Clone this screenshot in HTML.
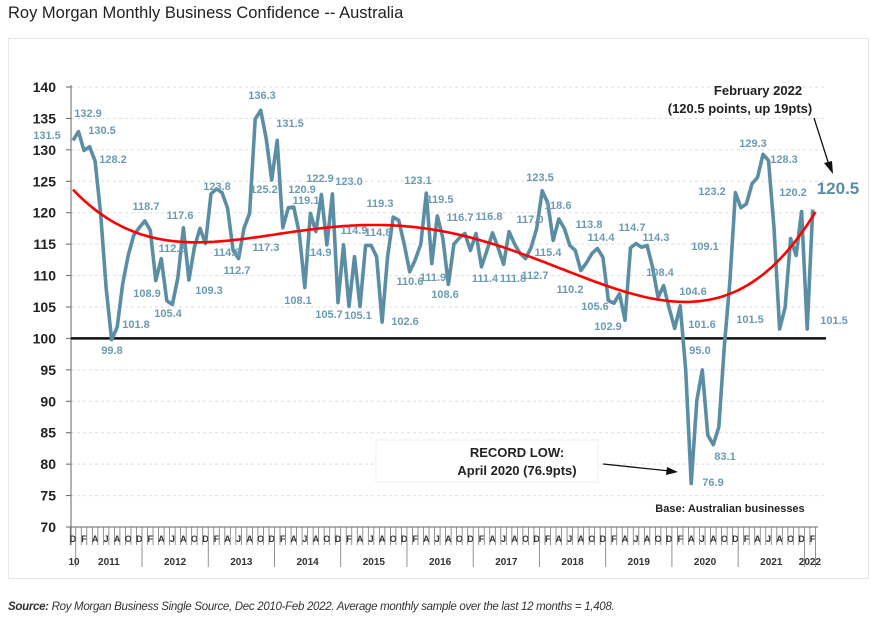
<!DOCTYPE html>
<html><head><meta charset="utf-8">
<style>
body{margin:0;background:#fff;width:878px;height:628px;overflow:hidden;font-family:"Liberation Sans",sans-serif;}
#title{position:absolute;left:8px;top:4px;font-size:16.5px;color:#222;}
#box{position:absolute;left:8px;top:38px;width:859px;height:539px;border:1px solid #e6e6e6;}
#src{position:absolute;left:8px;top:601px;font-size:11.5px;font-style:italic;color:#333;letter-spacing:-0.3px;}
svg{position:absolute;left:0;top:0;}
</style></head><body>
<div id="title">Roy Morgan Monthly Business Confidence -- Australia</div>
<div id="box"></div>
<svg id="chart" width="878" height="628"></svg>
<div id="src"><b>Source:</b> Roy Morgan Business Single Source, Dec 2010-Feb 2022. Average monthly sample over the last 12 months = 1,408.</div>
<script>
const values = [131.5,
132.9,129.9,130.5,128.2,119.9,108.1,99.8,101.8,108.7,113.2,116.4,117.6,
118.7,117.2,109.2,112.7,106,105.4,109.7,117.6,109.3,114.5,117.5,115.1,
123,123.8,123.2,120.7,114,112.7,117.6,119.9,134.9,136.3,131.8,125.2,
131.5,117.6,120.8,120.9,116.7,108.1,119.9,117,122.9,114.9,123.0,105.7,
114.9,105.1,113,105.1,114.8,114.8,113,102.6,113,119.3,118.8,115,
110.6,112.5,115,123.1,111.9,119.5,116,108.6,115,116,116.7,114,
116.7,111.4,114,116.8,114.5,111.8,117,115,113.5,112.7,114.5,117.5,
123.5,121.6,115.6,119,117.5,114.8,114,110.8,112,113.5,114.3,112.9,
106,105.6,107.1,102.9,114.4,115.1,114.5,114.8,111.3,106.5,108.4,104.8,
101.6,105.2,95.0,76.9,90.1,95,84.6,83.1,85.9,98.9,109.1,123.2,
120.8,121.4,124.6,125.6,129.3,128.3,117.6,101.5,104.9,115.9,113.2,120.2,
101.5,120.5];
const labelIdx = [0,1,3,4,7,8,13,15,16,18,20,21,26,24,30,34,36,37,38,40,43,42,45,46,47,48,49,50,53,58,56,64,66,61,65,68,71,74,76,78,79,82,85,88,87,91,92,101,102,97,104,100,119,107,110,109,114,116,112,120,125,126,128,132,133];
const labelText = ["131.5","132.9","130.5","128.2","99.8","101.8","118.7","108.9","112.2","105.4","117.6","109.3","123.8","114.8","112.7","136.3","125.2","131.5","117.3","120.9","119.1","108.1","122.9","114.9","123.0","105.7","114.9","105.1","114.8","119.3","102.6","123.1","119.5","110.6","111.9","108.6","116.7","111.4","116.8","111.8","117.0","112.7","123.5","118.6","115.4","113.8","110.2","114.4","114.7","105.6","114.3","102.9","109.1","108.4","104.6","101.6","95.0","83.1","76.9","123.2","129.3","128.3","101.5","120.2","101.5"];
const yTicks = [70,75,80,85,90,95,100,105,110,115,120,125,130,135,140];
const years = ["2011","2012","2013","2014","2015","2016","2017","2018","2019","2020","2021"];
const monthLetters = ["D","J","F","M","A","M","J","J","A","S","O","N"];
</script>
<script>
const NS="http://www.w3.org/2000/svg", svg=document.getElementById('chart');
const X0=73, DX=5.52, yPix=v=>527-(v-70)*6.2857, xPix=i=>X0+i*DX;
function mk(t,a,p){const e=document.createElementNS(NS,t);for(const k in a)e.setAttribute(k,a[k]);(p||svg).appendChild(e);return e;}
const labelPos=[[47,135],[88,113],[102,130],[113,159],[112,350],[136,324],[146,206],[147,293],[172,248],[168,313],[180,215],[209,290],[217,186],[227,252],[237,270],[262,95],[264,189],[290,123],[266,247],[302,189],[306,200],[298,300],[320,178],[318,252],[349,181],[329,314],[354,230],[358,315],[378,232],[380,203],[405,321],[418,180],[440,199],[410,281],[433,277],[445,294],[460,217],[485,278],[489,216],[513,278],[530,219],[535,275],[540,177],[558,205],[548,252],[589,224],[570,289],[601,237],[632,227],[595,306],[656,237],[608,326],[705,246],[660,272],[693,291],[702,324],[700,350],[725,456],[713,482],[712,191],[753,143],[784,159],[750,319],[793,192],[834,320]];
yTicks.forEach(v=>{
  const y=yPix(v);
  if(v>70&&v!==100){const g=mk('line',{x1:71,x2:826,y1:y,y2:y,stroke:'#ddd','stroke-dasharray':'3,3'});
  }
  const t=mk('text',{x:56,y:y+5,'text-anchor':'end','font-size':14,'font-weight':'bold',fill:'#222'});t.textContent=v;
  
  mk('line',{x1:66,x2:71,y1:y,y2:y,stroke:'#666'});
});
let ax=mk('line',{x1:71,x2:71,y1:85,y2:545,stroke:'#666','stroke-width':1});

ax=mk('line',{x1:71,x2:818,y1:527,y2:527,stroke:'#666'});

for(let i=0;i<values.length;i++){
  const x=xPix(i), m=i%12;
  mk('line',{x1:x-DX/2,x2:x-DX/2,y1:527,y2:(m===1)?567:545,stroke:'#777','stroke-width':0.8});
  if(i%2===0){const t=mk('text',{x:x,y:542,'text-anchor':'middle','font-size':9,'font-weight':'bold',fill:'#333'});t.textContent=monthLetters[m];
  }
}
mk('line',{x1:xPix(values.length-1)+DX/2,x2:xPix(values.length-1)+DX/2,y1:527,y2:567,stroke:'#777','stroke-width':0.8});
let t0=mk('text',{x:74,y:565,'text-anchor':'middle','font-size':10,'font-weight':'bold',fill:'#333'});t0.textContent='10';

years.forEach((y,k)=>{const t=mk('text',{x:xPix(1+k*12+5.5),y:565,'text-anchor':'middle','font-size':10,'font-weight':'bold',fill:'#333'});t.textContent=y;
 });
t0=mk('text',{x:xPix(133.5),y:565,'text-anchor':'middle','font-size':10,'font-weight':'bold',fill:'#333'});t0.textContent='2022';

let bl=mk('line',{x1:71,x2:826,y1:yPix(100),y2:yPix(100),stroke:'#111','stroke-width':2.5});

let d=values.map((v,i)=>(i?'L':'M')+xPix(i).toFixed(1)+','+yPix(v).toFixed(1)).join(' ');
let ln=mk('path',{d:d,fill:'none',stroke:'#5b8ea5','stroke-width':3.6,'stroke-linejoin':'round'});

(function(){
 const n=values.length,deg=4,N=deg+1,A=[],b=[];
 for(let r=0;r<N;r++){A.push(new Array(N).fill(0));b.push(0);}
 values.forEach((v,i)=>{const u=(i/(n-1))*2-1;for(let r=0;r<N;r++){b[r]+=v*Math.pow(u,r);for(let c=0;c<N;c++)A[r][c]+=Math.pow(u,r+c);}});
 for(let c=0;c<N;c++){let p=c;for(let r=c+1;r<N;r++)if(Math.abs(A[r][c])>Math.abs(A[p][c]))p=r;[A[c],A[p]]=[A[p],A[c]];[b[c],b[p]]=[b[p],b[c]];
  for(let r=0;r<N;r++)if(r!==c){const f=A[r][c]/A[c][c];for(let k=c;k<N;k++)A[r][k]-=f*A[c][k];b[r]-=f*b[c];}}
 const co=b.map((v,i)=>v/A[i][i]);
 let pd='';for(let i=0;i<n;i+=0.5){const u=(i/(n-1))*2-1;let v=0;co.forEach((c,k)=>v+=c*Math.pow(u,k));pd+=(pd?'L':'M')+xPix(i).toFixed(1)+','+yPix(v).toFixed(1)+' ';}
 const tr=mk('path',{d:pd,fill:'none',stroke:'#f00','stroke-width':2.6});
 
})();
labelIdx.forEach((idx,k)=>{
 const p=labelPos[k];
 const t=mk('text',{x:p[0],y:p[1]+4,'text-anchor':'middle','font-size':11,'font-weight':'bold',fill:'#6b9bb2'});
 t.textContent=labelText[k];
 
});
let big=mk('text',{x:838,y:194,'text-anchor':'middle','font-size':17,'font-weight':'bold',fill:'#5b8ea5'});big.textContent=values[values.length-1].toFixed(1);

function txt(x,y,s,sz,name,anchor){const t=mk('text',{x:x,y:y,'text-anchor':anchor||'middle','font-size':sz,'font-weight':'bold',fill:'#222'});t.textContent=s;
 return t;}
txt(758,95,'February 2022',13,'annotation-feb-2022');
txt(740,113,'(120.5 points, up 19pts)',13,'annotation-feb-2022-detail');
mk('line',{x1:814,y1:118,x2:830,y2:168,stroke:'#111','stroke-width':1.3});
mk('path',{d:'M833,174 L824,163 L832,161 Z',fill:'#111'});
mk('rect',{x:376,y:440,width:222,height:42,fill:'#fff',stroke:'#eee'});
txt(517,457,'RECORD LOW:',13,'annotation-record-low');
txt(517,475,'April 2020 (76.9pts)',13,'annotation-record-low-detail');
mk('line',{x1:603,y1:464,x2:670,y2:471,stroke:'#111','stroke-width':1.3});
mk('path',{d:'M678,472 L667,467 L666,475 Z',fill:'#111'});
txt(730,512,'Base: Australian businesses',11,'base-note');
</script>
</body></html>
